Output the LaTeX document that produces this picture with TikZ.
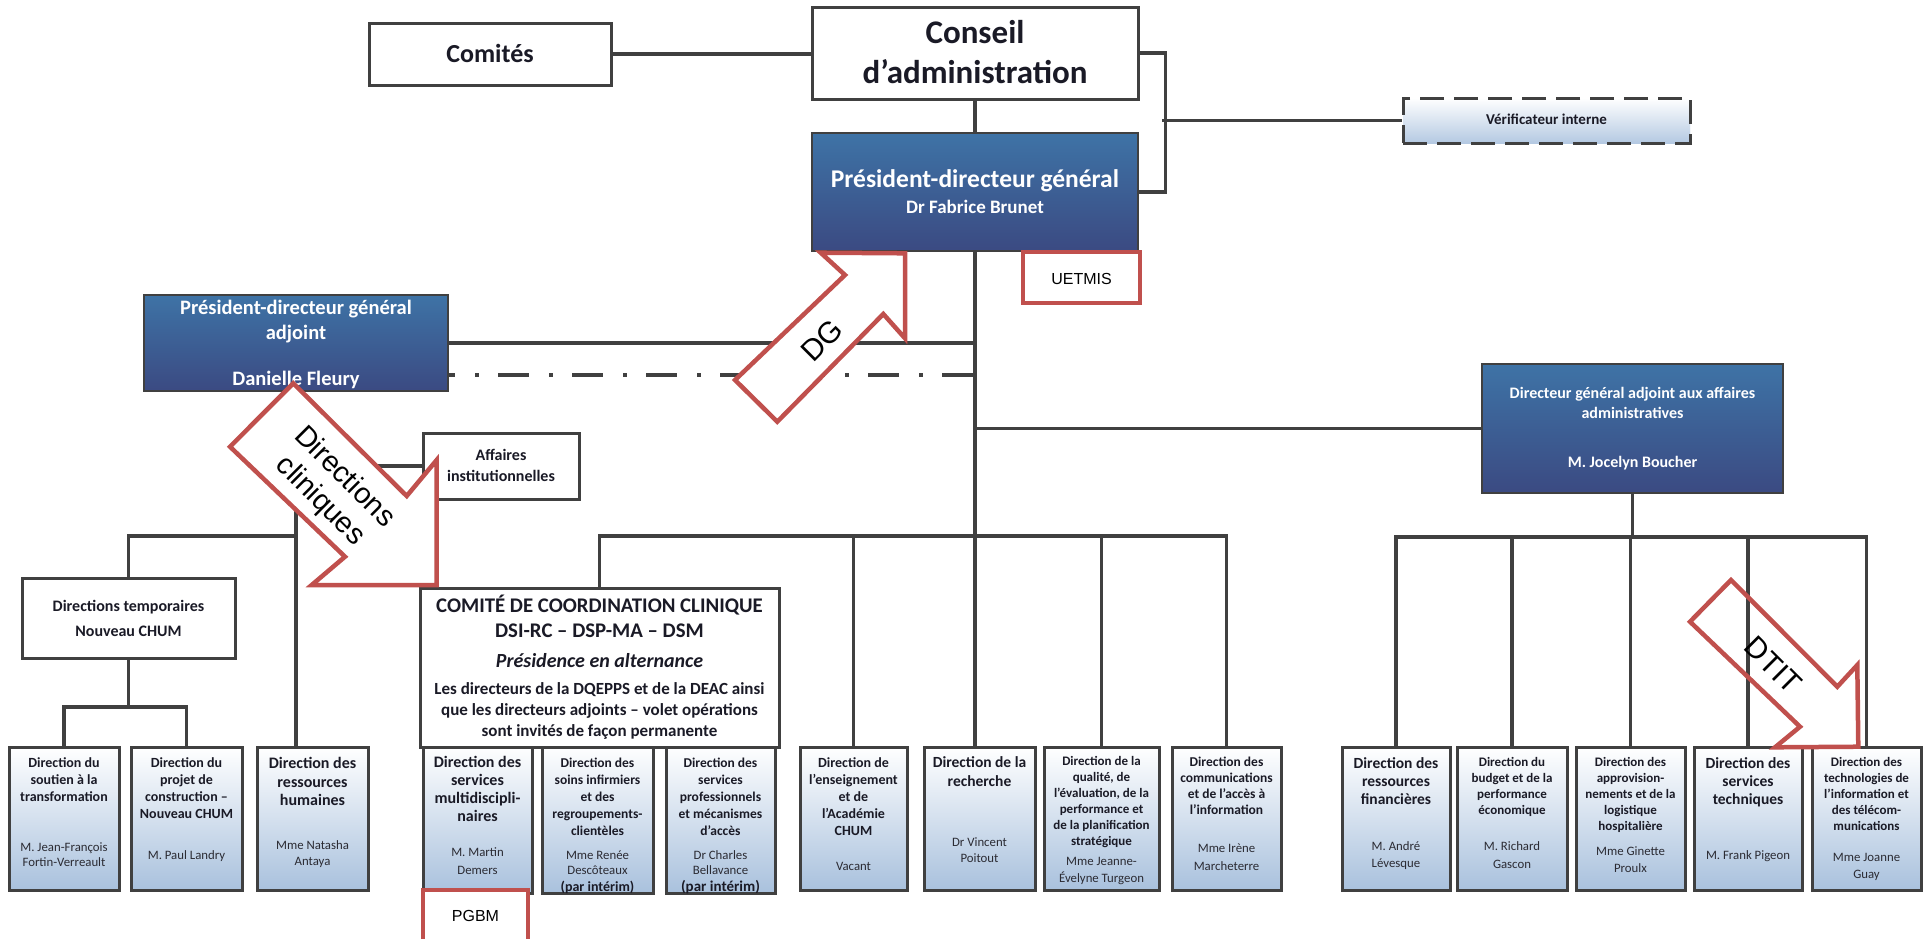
\documentclass[tikz,border=0pt]{standalone}
\usepackage{fontspec}
\setmainfont{Carlito}
\newfontfamily\arialf{Liberation Sans}
\definecolor{linec}{HTML}{404040}
\definecolor{redc}{HTML}{C0504D}
\definecolor{boxblue}{HTML}{A9C1DD}
\definecolor{verifblue}{HTML}{B4C9E2}
\definecolor{navytop}{HTML}{3E73A6}
\definecolor{navybot}{HTML}{3B4A82}
\definecolor{txtc}{HTML}{1A1A26}
\definecolor{namec}{HTML}{2B2B33}
\newcommand{\myfs}[2]{\fontsize{#1}{#2}\selectfont}
\tikzset{
  conn/.style={draw=linec, line width=3.2pt},
  dashdotline/.style={draw=linec, line width=3.4pt, dash pattern=on 31pt off 20pt on 3.5pt off 19.5pt, dash phase=24pt},
  wbox/.style={draw=linec, line width=3pt, fill=white, inner sep=0pt},
  gbox/.style={draw=linec, line width=3pt, top color=white, bottom color=boxblue, inner sep=0pt, minimum height=143},
  nbox/.style={draw=linec, line width=2.6pt, top color=navytop, bottom color=navybot, inner sep=0pt},
  dashbox/.style={draw=linec, line width=3pt, dash pattern=on 24pt off 10pt, top color=white, bottom color=verifblue, inner sep=0pt},
  rbox/.style={draw=redc, line width=4.5pt, fill=white, inner sep=0pt},
  rarrow/.style={draw=redc, line width=4.5pt, line join=miter, miter limit=10},
  txt/.style={align=center, anchor=base, inner sep=0pt, text=txtc},
  ttls/.style={txt, font=\bfseries\myfs{13.5}{16.2}},
  ttlm/.style={txt, font=\bfseries\myfs{14}{17.2}},
  ttlb/.style={txt, font=\bfseries\myfs{15.5}{18.2}},
  nm/.style={txt, text=namec, font=\myfs{12.8}{16}},
  wtxt/.style={align=center, anchor=base, inner sep=0pt, text=white},
  atxt/.style={align=center, inner sep=0pt, font=\arialf\myfs{29}{34}},
}
\begin{document}
\begin{tikzpicture}[x=1pt, y=-1pt]
\useasboundingbox (0,0) rectangle (1930,938);

% ---------- box nodes ----------
\node[wbox, minimum width=242, minimum height=62] (comites) at (490,54) {};
\node[wbox, minimum width=326, minimum height=92] (conseil) at (975,53) {};
\node[nbox, minimum width=326, minimum height=118] (pdg) at (975,192) {};
\node[dashbox, minimum width=287, minimum height=45] (verif) at (1546.5,120.5) {};
\node[nbox, minimum width=304, minimum height=96] (pdga) at (296,343) {};
\node[nbox, minimum width=301, minimum height=129] (dga) at (1632.5,428.5) {};

\coordinate (brk) at (1162,120.5);
\coordinate (dd) at (448,375);
\coordinate (busL) at (0,536);
\coordinate (busR) at (0,537);
\coordinate (dtb) at (0,707);

\node[gbox, minimum width=110] (b1) at (64,818.5) {};
\node[gbox, minimum width=111] (b2) at (186.5,818.5) {};
\node[gbox, minimum width=111] (b3) at (312.5,818.5) {};
\node[gbox, minimum width=107] (m1) at (853.5,818.5) {};
\node[gbox, minimum width=111] (m2) at (979.5,818.5) {};
\node[gbox, minimum width=115] (m3) at (1101.5,818.5) {};
\node[gbox, minimum width=109] (m4) at (1226.5,818.5) {};
\node[gbox, minimum width=108] (r1) at (1396,818.5) {};
\node[gbox, minimum width=110] (r2) at (1512,818.5) {};
\node[gbox, minimum width=109] (r3) at (1630.5,818.5) {};
\node[gbox, minimum width=108] (r4) at (1748,818.5) {};
\node[gbox, minimum width=109] (r5) at (1866.5,818.5) {};
\node[gbox, minimum width=109, minimum height=148] (b4) at (477.5,819) {};
\node[gbox, minimum width=111, minimum height=148] (b5) at (597.5,819) {};
\node[gbox, minimum width=109, minimum height=148] (b6) at (720.5,819) {};
\node[wbox, minimum width=156, minimum height=66] (affaires) at (501,466) {};
\node[wbox, minimum width=213, minimum height=80] (dt) at (128.5,618) {};
\node[wbox, minimum width=359, minimum height=159] (ccc) at (599.5,667.5) {};
\node[rbox, minimum width=117, minimum height=51] (uetmis) at (1081.5,277.5) {};
\node[rbox, minimum width=105, minimum height=60] (pgbm) at (475.5,920) {};

% ---------- connectors ----------
\draw[conn] (comites.east) -- (comites.east -| conseil.west);
\draw[conn] (conseil.south) -- (pdg.north);
\draw[conn] (conseil.east) -- ++(26,0) |- (pdg.east);
\draw[conn] (brk) -- (brk -| verif.west);
\draw[conn] (pdg.south) -- (pdg.south |- m2.north);
\draw[conn] (pdga.east) -- (pdga.east -| pdg.south);
\draw[dashdotline] (dd) -- (dd -| pdg.south);
\draw[conn] (dga.west) -- (dga.west -| pdg.south);
\draw[conn] (ccc.north) -- (ccc.north |- busL) -- (m4.north |- busL) -- (m4.north);
\draw[conn] (m1.north) -- (m1.north |- busL);
\draw[conn] (m3.north) -- (m3.north |- busL);
\draw[conn] (dga.south) -- (dga.south |- busR);
\draw[conn] (r1.north) -- (r1.north |- busR) -- (r5.north |- busR) -- (r5.north);
\draw[conn] (r2.north) -- (r2.north |- busR);
\draw[conn] (r3.north) -- (r3.north |- busR);
\draw[conn] (r4.north) -- (r4.north |- busR);
\draw[conn] (pdga.south) -- (pdga.south |- b3.north);
\draw[conn] (affaires.west) -- (affaires.west -| pdga.south);
\draw[conn] (dt.north) |- (pdga.south |- busL);
\draw[conn] (dt.south) -- (dt.south |- dtb);
\draw[conn] (b1.north) -- (b1.north |- dtb) -- (b2.north |- dtb) -- (b2.north);

% redraw boxes over line ends
\node[wbox, minimum width=242, minimum height=62] (comitesR) at (comites) {};
\node[wbox, minimum width=326, minimum height=92] (conseilR) at (conseil) {};
\node[nbox, minimum width=326, minimum height=118] (pdgR) at (pdg) {};
\node[dashbox, minimum width=287, minimum height=45] (verifR) at (verif) {};
\node[nbox, minimum width=304, minimum height=96] (pdgaR) at (pdga) {};
\node[nbox, minimum width=301, minimum height=129] (dgaR) at (dga) {};
\node[wbox, minimum width=156, minimum height=66] (affairesR) at (affaires) {};
\node[wbox, minimum width=213, minimum height=80] (dtR) at (dt) {};
\node[gbox, minimum width=110] (b1R) at (b1) {};
\node[gbox, minimum width=111] (b2R) at (b2) {};
\node[gbox, minimum width=111] (b3R) at (b3) {};
\node[gbox, minimum width=107] (m1R) at (m1) {};
\node[gbox, minimum width=111] (m2R) at (m2) {};
\node[gbox, minimum width=115] (m3R) at (m3) {};
\node[gbox, minimum width=109] (m4R) at (m4) {};
\node[gbox, minimum width=108] (r1R) at (r1) {};
\node[gbox, minimum width=110] (r2R) at (r2) {};
\node[gbox, minimum width=109] (r3R) at (r3) {};
\node[gbox, minimum width=108] (r4R) at (r4) {};
\node[gbox, minimum width=109] (r5R) at (r5) {};
\node[gbox, minimum width=109, minimum height=148] (b4R) at (b4) {};
\node[gbox, minimum width=111, minimum height=148] (b5R) at (b5) {};
\node[gbox, minimum width=109, minimum height=148] (b6R) at (b6) {};
\node[wbox, minimum width=359, minimum height=159] (cccR) at (ccc) {};
\node[rbox, minimum width=117, minimum height=51] (uetmisR) at (uetmis) {};
\node[rbox, minimum width=105, minimum height=60] (pgbmR) at (pgbm) {};

% ---------- texts (base anchor = baseline of LAST line) ----------
\node[txt, font=\bfseries\myfs{26}{30}] (tcomites) at (490,62) {Comités};
\node[txt, font=\bfseries\myfs{33}{40}] (tconseil) at (975,83) {Conseil\\d’administration};
\node[wtxt, font=\bfseries\myfs{25.5}{30}] (tpdg) at (975,187) {Président-directeur général};
\node[wtxt, font=\bfseries\myfs{19}{22}] (npdg) at (975,213) {Dr Fabrice Brunet};
\node[txt, font=\bfseries\myfs{15}{18}] (tverif) at (1546.5,124) {Vérificateur interne};
\node[txt, text=black, font=\arialf\myfs{16}{19}] (tuetmis) at (1081.5,284.5) {UETMIS};
\node[txt, text=black, font=\arialf\myfs{16}{19}] (tpgbm) at (475.5,921) {PGBM};
\node[wtxt, font=\bfseries\myfs{20.5}{25}] (tpdga) at (296,339) {Président-directeur général\\adjoint};
\node[wtxt, font=\bfseries\myfs{20.5}{25}] (npdga) at (296,385) {Danielle Fleury};
\node[wtxt, font=\bfseries\myfs{16}{20}] (tdga) at (1632.5,418) {Directeur général adjoint aux affaires\\administratives};
\node[wtxt, font=\bfseries\myfs{16}{20}] (ndga) at (1632.5,467) {M. Jocelyn Boucher};
\node[txt, font=\bfseries\myfs{16}{21}] (taff) at (501,481) {Affaires\\institutionnelles};
\node[txt, font=\bfseries\myfs{16}{25}] (tdt) at (128.5,636) {Directions temporaires\\Nouveau CHUM};
\node[txt, font=\bfseries\myfs{20.8}{25}] (tccc) at (599.5,637.5) {COMITÉ DE COORDINATION CLINIQUE\\DSI-RC – DSP-MA – DSM};
\node[txt, font=\bfseries\itshape\myfs{20}{24}] (iccc) at (599.5,667) {Présidence en alternance};
\node[txt, font=\bfseries\myfs{17}{21}] (pccc) at (599.5,736) {Les directeurs de la DQEPPS et de la DEAC ainsi\\que les directeurs adjoints – volet opérations\\sont invités de façon permanente};

% bottom box texts
\node[ttlm] (tb1) at (64,801.4) {Direction du\\soutien à la\\transformation};
\node[nm, font=\myfs{12.8}{15}] (nb1) at (64,866) {M. Jean-François\\Fortin-Verreault};
\node[ttlm] (tb2) at (186.5,818.6) {Direction du\\projet de\\construction –\\Nouveau CHUM};
\node[nm] (nb2) at (186.5,859) {M. Paul Landry};
\node[txt, font=\bfseries\myfs{16}{18.5}] (tb3) at (312.5,805.5) {Direction des\\ressources\\humaines};
\node[nm] (nb3) at (312.5,865) {Mme Natasha\\Antaya};
\node[txt, font=\bfseries\myfs{16}{18}] (tb4) at (477.5,821.5) {Direction des\\services\\multidiscipli-\\naires};
\node[nm, font=\myfs{12.8}{18}] (nb4) at (477.5,874) {M. Martin\\Demers};
\node[txt, font=\bfseries\myfs{13.5}{17.2}] (tb5) at (597.5,835.8) {Direction des\\soins infirmiers\\et des\\regroupements-\\clientèles};
\node[nm, font=\myfs{12.8}{15.5}] (nb5) at (597.5,874.5) {Mme Renée\\Descôteaux};
\node[txt, font=\bfseries\myfs{14}{16}] (pb5) at (597.5,891) {(par intérim)};
\node[txt, font=\bfseries\myfs{13.5}{17.2}] (tb6) at (720.5,835.8) {Direction des\\services\\professionnels\\et mécanismes\\d’accès};
\node[nm, font=\myfs{12.8}{15.5}] (nb6) at (720.5,874.5) {Dr Charles\\Bellavance};
\node[txt, font=\bfseries\myfs{15}{17}] (pb6) at (720.5,891) {(par intérim)};
\node[ttlm] (tm1) at (853.5,835.8) {Direction de\\l’enseignement\\et de\\l’Académie\\CHUM};
\node[nm] (nm1) at (853.5,870) {Vacant};
\node[txt, font=\bfseries\myfs{15.5}{19}] (tm2) at (979.5,786) {Direction de la\\recherche};
\node[nm] (nm2) at (979.5,862) {Dr Vincent\\Poitout};
\node[txt, font=\bfseries\myfs{13}{16}] (tm3) at (1101.5,845.5) {Direction de la\\qualité, de\\l’évaluation, de la\\performance et\\de la planification\\stratégique};
\node[nm, font=\myfs{12.8}{17}] (nm3) at (1101.5,882) {Mme Jeanne-\\Évelyne Turgeon};
\node[txt, font=\bfseries\myfs{13.5}{16}] (tm4) at (1226.5,814) {Direction des\\communications\\et de l’accès à\\l’information};
\node[nm, font=\myfs{12.8}{18}] (nm4) at (1226.5,870) {Mme Irène\\Marcheterre};
\node[ttlb] (tr1) at (1396,804.9) {Direction des\\ressources\\financières};
\node[nm, font=\myfs{12.8}{17}] (nr1) at (1396,867) {M. André\\Lévesque};
\node[txt, font=\bfseries\myfs{13}{16}] (tr2) at (1512,814.5) {Direction du\\budget et de la\\performance\\économique};
\node[nm, font=\myfs{12.8}{18}] (nr2) at (1512,868) {M. Richard\\Gascon};
\node[txt, font=\bfseries\myfs{13}{16}] (tr3) at (1630.5,830.5) {Direction des\\approvision-\\nements et de la\\logistique\\hospitalière};
\node[nm, font=\myfs{12.8}{17}] (nr3) at (1630.5,872) {Mme Ginette\\Proulx};
\node[ttlb] (tr4) at (1748,804.9) {Direction des\\services\\techniques};
\node[nm] (nr4) at (1748,859) {M. Frank Pigeon};
\node[txt, font=\bfseries\myfs{13}{16}] (tr5) at (1866.5,830.5) {Direction des\\technologies de\\l’information et\\des télécom-\\munications};
\node[nm, font=\myfs{12.8}{17}] (nr5) at (1866.5,878) {Mme Joanne\\Guay};

% ---------- red arrows ----------
\draw[rarrow, fill=white] (293.3,383.3) -- (406.7,496) -- (436.7,460) -- (436.7,585) -- (311.7,585) -- (345,556.7) -- (230,446.7) -- cycle;
\node[atxt, rotate=-45] (tdc) at (332,489.4) {Directions\\cliniques};

\draw[rarrow, fill=white] (735,380) -- (845,275) -- (820.7,252.7) -- (905,253.3) -- (905,338.3) -- (883.3,314) -- (777.3,421.7) -- cycle;
\node[atxt, rotate=45, font=\arialf\myfs{30}{34}] (tdg) at (821.7,340.7) {DG};

\draw[rarrow] (1731,580) -- (1837.3,686.7) -- (1857.3,665) -- (1858.3,746.7) -- (1775,747.3) -- (1800,726.7) -- (1690,621.7) -- cycle;
\node[atxt, rotate=-45, font=\arialf\myfs{30}{34}] (tdtit) at (1773.3,665) {DTIT};
\end{tikzpicture}
\end{document}
